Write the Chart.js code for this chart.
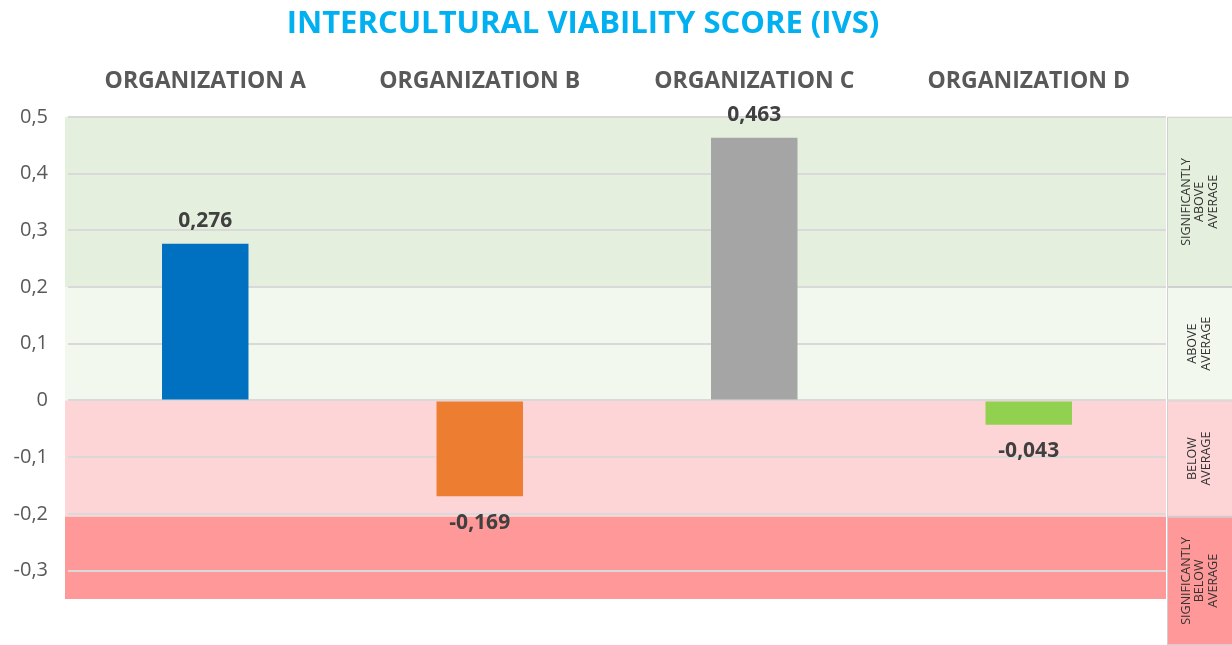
<!DOCTYPE html>
<html>
<head>
<meta charset="utf-8">
<script src="https://cdn.jsdelivr.net/npm/chart.js@4/dist/chart.umd.min.js"></script>
<style>
  body { margin: 0; background: #fff; }
  #wrap { width: 1232px; height: 645px; }
</style>
</head>
<body>
<div id="wrap"><canvas id="grafico" width="1232" height="645"></canvas></div>
<script>
const categorias = ["ORGANIZATION A", "ORGANIZATION B", "ORGANIZATION C", "ORGANIZATION D"];
const valores = [0.276, -0.169, 0.463, -0.043];
const coresBarras = ["#0070c0", "#ed7d31", "#a5a5a5", "#92d050"];

// background zones (value ranges) and the legend panel on the right
const faixasTopo = [0.5, 0.2, 0, -0.205];
const faixasBase = [0.2, 0, -0.205, -0.35];
const faixasCores = ["#e4f0dd", "#f2f8ee", "#fdd5d6", "#ff9898"];
const faixasTextos = [
    ["SIGNIFICANTLY", "ABOVE", "AVERAGE"],
    ["ABOVE", "AVERAGE"],
    ["BELOW", "AVERAGE"],
    ["SIGNIFICANTLY", "BELOW", "AVERAGE"]
];

const FONTE = "'Open Sans', 'Liberation Sans', sans-serif";

const fmt = v => String(Math.round(v * 1000) / 1000).replace(".", ",");

const pluginFaixas = {
    id: "faixas",
    beforeDraw(chart) {
        const { ctx, chartArea, scales } = chart;
        const y = scales.y;
        ctx.save();
        faixasCores.forEach((cor, i) => {
            const top = y.getPixelForValue(faixasTopo[i]);
            const bottom = y.getPixelForValue(faixasBase[i]);
            ctx.fillStyle = cor;
            ctx.fillRect(chartArea.left - 3, top, chartArea.right - chartArea.left + 3, bottom - top);

            // painel da direita
            const x0 = chartArea.right + 1;
            const w = chart.width - x0;
            const yb = i === faixasCores.length - 1 ? chart.height : bottom;
            ctx.fillRect(x0, top, w, yb - top);
            ctx.strokeStyle = "#d0d0d0";
            ctx.lineWidth = 1;
            ctx.strokeRect(x0 + 0.5, top + 0.5, w, yb - top - 1);

            ctx.translate(x0 + w / 2, (top + yb) / 2);
            ctx.rotate(-Math.PI / 2);
            ctx.fillStyle = "#333333";
            ctx.font = "12.5px " + FONTE;
            ctx.textAlign = "center";
            ctx.textBaseline = "middle";
            const linhas = faixasTextos[i];
            const lh = 13.5;
            linhas.forEach((t, k) => {
                ctx.fillText(t, 0, (k - (linhas.length - 1) / 2) * lh);
            });
            ctx.setTransform(1, 0, 0, 1, 0, 0);
        });
        ctx.restore();
    }
};

const pluginRotulos = {
    id: "rotulos",
    afterDatasetsDraw(chart) {
        const { ctx } = chart;
        const meta = chart.getDatasetMeta(0);
        ctx.save();
        ctx.font = "bold 21px " + FONTE;
        ctx.fillStyle = "#404040";
        ctx.textAlign = "center";
        meta.data.forEach((bar, i) => {
            const v = valores[i];
            if (v >= 0) {
                ctx.textBaseline = "bottom";
                ctx.fillText(fmt(v), bar.x, bar.y - 12);
            } else {
                ctx.textBaseline = "top";
                ctx.fillText(fmt(v), bar.x, bar.y + 16);
            }
        });
        ctx.restore();
    }
};

new Chart(document.getElementById("grafico").getContext("2d"), {
    type: "bar",
    data: {
        labels: categorias,
        datasets: [{
            data: valores,
            backgroundColor: coresBarras,
            categoryPercentage: 1,
            barPercentage: 0.315
        }]
    },
    options: {
        responsive: false,
        animation: false,
        layout: { padding: { left: 0, right: 66, top: 0, bottom: 46 } },
        plugins: {
            legend: { display: false },
            tooltip: { enabled: false },
            title: {
                display: true,
                text: "INTERCULTURAL VIABILITY SCORE (IVS)",
                color: "#00b0f0",
                font: { family: FONTE, size: 31, weight: "bold" },
                padding: { top: 6, bottom: 10 }
            }
        },
        scales: {
            x: {
                position: "top",
                grid: { display: false },
                border: { display: false },
                ticks: {
                    color: "#595959",
                    font: { family: FONTE, size: 23, weight: "bold" },
                    padding: 14
                }
            },
            y: {
                min: -0.35,
                max: 0.5,
                grid: { color: "#d9d9d9", lineWidth: 2, drawTicks: false },
                border: { display: false },
                afterBuildTicks(scale) {
                    scale.ticks = scale.ticks.filter(t => Math.abs(t.value * 10 - Math.round(t.value * 10)) < 1e-6);
                },
                afterFit(scale) {
                    scale.width = 68;
                },
                ticks: {
                    stepSize: 0.1,
                    color: "#595959",
                    font: { family: FONTE, size: 20 },
                    padding: 20,
                    callback: v => fmt(v)
                }
            }
        }
    },
    plugins: [pluginFaixas, pluginRotulos]
});
</script>
</body>
</html>
